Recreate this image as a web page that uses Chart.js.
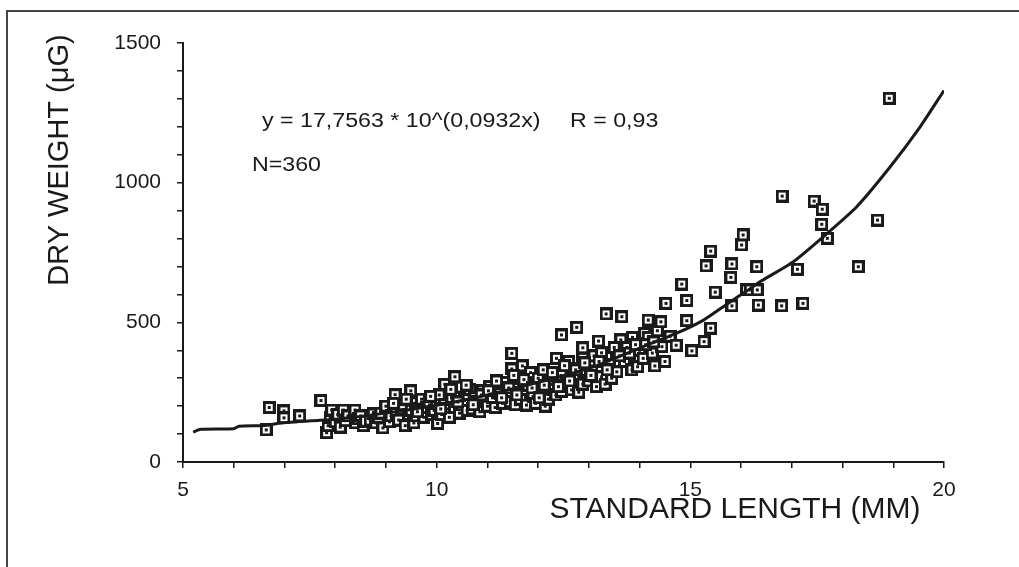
<!DOCTYPE html>
<html>
<head>
<meta charset="utf-8">
<script src="https://cdn.jsdelivr.net/npm/chart.js@4.4.0/dist/chart.umd.min.js"></script>
<style>
  body { margin: 0; background: #fff; }
  #wrap { position: relative; width: 1019px; height: 567px; }
  #frame { position: absolute; left: 6px; top: 10px; right: 0; bottom: 0;
           border-left: 2px solid #444; border-top: 2px solid #444; }
  #box { position: absolute; left: 0; top: 0; width: 1019px; height: 567px; }
</style>
</head>
<body>
<div id="wrap">
  <div id="frame"></div>
  <div id="box"><canvas id="chart"></canvas></div>
</div>
<script>
// standard length (mm) and dry weight (ug) of each fish
var lengthMM = [
  6.64, 6.70, 6.99, 6.99, 7.30, 7.72, 7.83, 7.86, 7.90, 7.93,
  8.00, 8.05, 8.10, 8.16, 8.20, 8.25, 8.39, 8.40, 8.45, 8.50,
  8.55, 8.60, 8.69, 8.75, 8.80, 8.85, 8.90, 8.94, 9.00, 9.07,
  9.10, 9.18, 9.20, 9.25, 9.30, 9.35, 9.38, 9.45, 9.49, 9.50,
  9.55, 9.59, 9.60, 9.65, 9.70, 9.75, 9.80, 9.85, 9.90, 9.95,
  10.00, 10.02, 10.05, 10.10, 10.15, 10.16, 10.20, 10.25, 10.30, 10.35,
  10.36, 10.40, 10.45, 10.49, 10.50, 10.55, 10.60, 10.62, 10.65, 10.70,
  10.75, 10.80, 10.85, 10.90, 10.95, 11.00, 11.05, 11.10, 11.15, 11.20,
  11.25, 11.30, 11.35, 11.40, 11.45, 11.48, 11.48, 11.55, 11.60, 11.62,
  11.65, 11.69, 11.75, 11.77, 11.80, 11.85, 11.90, 11.95, 12.00, 12.05,
  12.10, 12.14, 12.20, 12.25, 12.30, 12.35, 12.36, 12.45, 12.46, 12.46,
  12.55, 12.60, 12.66, 12.66, 12.70, 12.76, 12.80, 12.88, 12.88, 12.88,
  12.95, 13.00, 13.06, 13.10, 13.15, 13.19, 13.25, 13.25, 13.32, 13.34,
  13.40, 13.45, 13.55, 13.55, 13.63, 13.65, 13.70, 13.75, 13.85, 13.86,
  13.96, 14.00, 14.07, 14.10, 14.17, 14.17, 14.25, 14.30, 14.35, 14.42,
  14.44, 14.50, 14.52, 14.60, 14.72, 14.83, 14.93, 14.93, 15.03, 15.27,
  15.31, 15.40, 15.40, 15.49, 15.80, 15.82, 15.82, 16.01, 16.04, 16.11,
  16.18, 16.31, 16.32, 16.34, 16.80, 16.81, 17.11, 17.22, 17.44, 17.59,
  17.60, 17.70, 18.31, 18.69, 18.92,
  9.15, 9.40, 9.62, 9.88, 10.08, 10.28, 10.42, 10.58, 10.72, 10.88,
  11.02, 11.18, 11.28, 11.42, 11.52, 11.58, 11.72, 11.88, 12.02, 12.12,
  12.28, 12.40, 12.52, 12.62, 12.74, 12.92, 13.04, 13.20, 13.36, 13.50,
  13.60, 13.80, 13.92, 14.12, 14.28
];
var weightUG = [
  115, 195, 183, 158, 165, 220, 105, 130, 160, 186,
  144, 170, 125, 186, 148, 165, 186, 140, 155, 165,
  130, 146, 150, 172, 140, 160, 175, 122, 200, 144,
  165, 241, 175, 150, 190, 205, 130, 170, 255, 185,
  140, 212, 165, 190, 225, 160, 195, 215, 170, 185,
  210, 138, 240, 170, 205, 278, 190, 160, 225, 195,
  305, 250, 175, 268, 205, 220, 185, 240, 260, 190,
  230, 215, 180, 255, 225, 200, 270, 230, 195, 265,
  245, 210, 285, 235, 216, 389, 333, 205, 250, 300,
  225, 344, 260, 204, 275, 320, 235, 210, 300, 250,
  330, 200, 225, 290, 260, 240, 371, 310, 455, 253,
  280, 360, 333, 258, 300, 482, 250, 409, 371, 279,
  320, 290, 344, 380, 270, 433, 391, 305, 279, 530,
  350, 300, 392, 323, 437, 520, 360, 410, 330, 446,
  341, 400, 371, 460, 446, 508, 390, 344, 470, 502,
  413, 360, 568, 450, 418, 637, 578, 506, 398, 431,
  702, 755, 479, 608, 661, 709, 559, 777, 813, 616,
  616, 699, 616, 562, 559, 952, 690, 568, 934, 851,
  905, 801, 699, 866, 1302,
  210, 225, 180, 235, 190, 260, 215, 275, 205, 240,
  255, 290, 230, 265, 310, 240, 295, 265, 230, 275,
  320, 270, 345, 290, 330, 355, 310, 360, 330, 410,
  380, 390, 420, 420, 430
];

// fitted curve as drawn on the figure
var curveX = [5.20, 5.35, 6.00, 6.10, 6.60, 6.90, 7.56, 8.00, 9.00, 10.00, 11.00, 12.00,
              12.43, 13.09, 14.07, 14.73, 15.26, 15.72, 16.11, 16.37, 17.03, 17.70,
              18.28, 18.94, 19.53, 20.00];
var curveY = [107, 117, 119, 128, 131, 139, 148, 153, 175, 203, 240, 285,
              305, 341, 413, 461, 508, 565, 612, 645, 717, 819,
              914, 1057, 1200, 1330];

var xTicks = [5, 10, 15, 20];
var yTicks = [0, 500, 1000, 1500];

var equation = 'y = 17,7563 * 10^(0,0932x)';
var rText = 'R = 0,93';
var nText = 'N=360';
var xTitle = 'STANDARD LENGTH (MM)';
var yTitle = 'DRY WEIGHT (\u03BCG)';

var FONT = '"Liberation Sans", Arial, Helvetica, sans-serif';
var INK = '#1a1a1a';

function makeMarker() {
  var c = document.createElement('canvas');
  c.width = 13; c.height = 13;
  var g = c.getContext('2d');
  g.fillStyle = INK; g.fillRect(0, 0, 13, 13);
  g.fillStyle = '#fff'; g.fillRect(3, 3, 7, 7);
  g.fillStyle = INK; g.fillRect(5, 5, 3, 3);
  return c;
}

var points = lengthMM.map(function (x, i) { return { x: x, y: weightUG[i] }; });
var curve = curveX.map(function (x, i) { return { x: x, y: curveY[i] }; });

var textPlugin = {
  id: 'texts',
  afterDraw: function (chart) {
    var ctx = chart.ctx;
    ctx.save();
    ctx.fillStyle = INK;
    ctx.textBaseline = 'middle';

    ctx.font = '20px ' + FONT;
    ctx.save(); ctx.translate(262, 121); ctx.scale(1.16, 1);
    ctx.fillText(equation, 0, 0); ctx.restore();
    ctx.save(); ctx.translate(570, 121); ctx.scale(1.16, 1);
    ctx.fillText(rText, 0, 0); ctx.restore();
    ctx.save(); ctx.translate(252, 165); ctx.scale(1.16, 1);
    ctx.fillText(nText, 0, 0); ctx.restore();

    ctx.font = '30px ' + FONT;
    ctx.textAlign = 'center';
    ctx.fillText(xTitle, 735, 510);
    ctx.translate(60, 160);
    ctx.rotate(-Math.PI / 2);
    ctx.font = '29px ' + FONT;
    ctx.fillText(yTitle, 0, 0);
    ctx.restore();
  }
};

new Chart(document.getElementById('chart'), {
  type: 'scatter',
  data: {
    datasets: [
      {
        data: curve,
        showLine: true,
        borderColor: INK,
        borderWidth: 3,
        pointRadius: 0,
        tension: 0.2
      },
      {
        data: points,
        pointStyle: makeMarker(),
        pointRadius: 6
      }
    ]
  },
  options: {
    responsive: true,
    maintainAspectRatio: false,
    animation: false,
    events: [],
    layout: { padding: { left: 0, top: 43, right: 75, bottom: 0 } },
    plugins: { legend: { display: false }, tooltip: { enabled: false } },
    scales: {
      x: {
        type: 'linear', min: 5, max: 20,
        ticks: {
          stepSize: 1, autoSkip: false, maxRotation: 0, padding: 10, color: INK,
          font: { family: FONT, size: 21 },
          callback: function (v) { return xTicks.indexOf(v) >= 0 ? String(v) : ''; }
        },
        grid: { drawOnChartArea: false, color: INK, lineWidth: 1.5, tickLength: 6 },
        border: { color: INK, width: 2 },
        afterFit: function (s) { s.height = 105; }
      },
      y: {
        min: 0, max: 1500,
        ticks: {
          stepSize: 100, autoSkip: false, padding: 16, color: INK,
          font: { family: FONT, size: 21 },
          callback: function (v) { return yTicks.indexOf(v) >= 0 ? String(v) : ''; }
        },
        grid: { drawOnChartArea: false, color: INK, lineWidth: 1.5, tickLength: 6 },
        border: { color: INK, width: 2 },
        afterFit: function (s) { s.width = 183; }
      }
    }
  },
  plugins: [textPlugin]
});
</script>
</body>
</html>
